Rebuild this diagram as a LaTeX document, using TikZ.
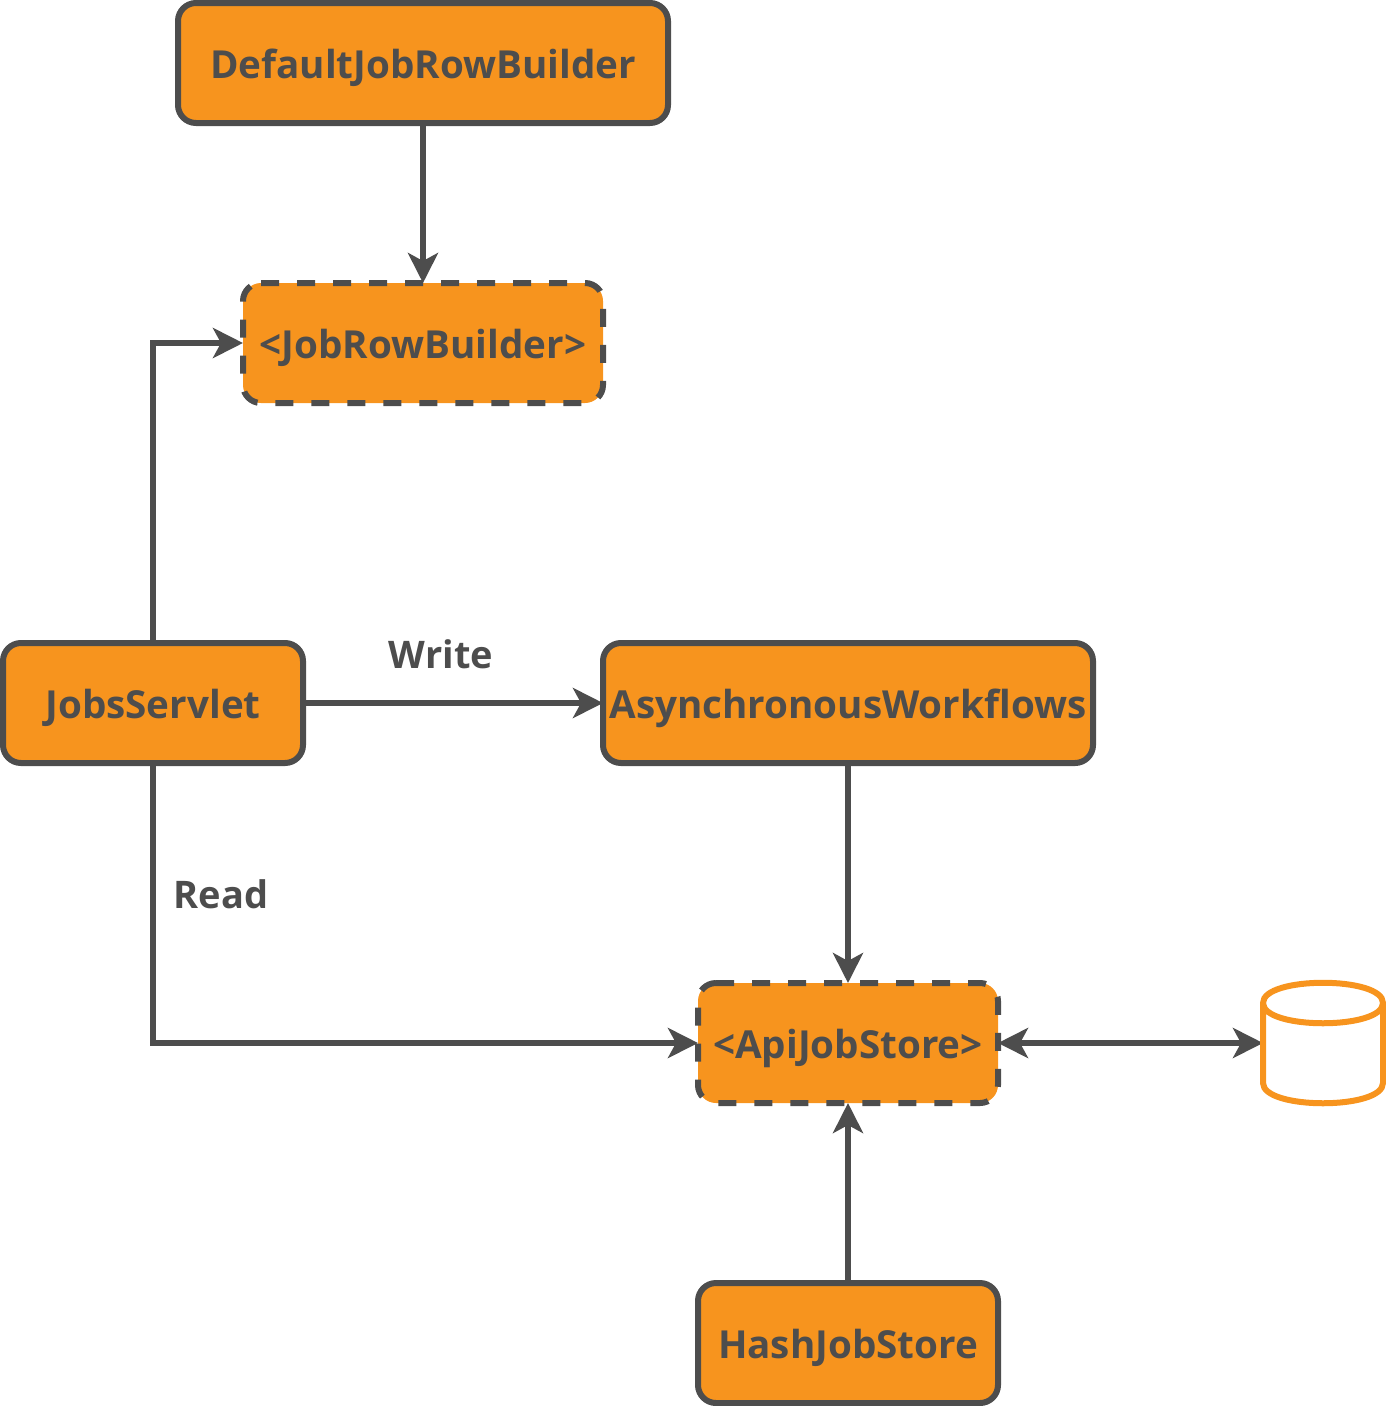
\documentclass[tikz,border=0pt]{standalone}
\usepackage{fontspec}
\setmainfont{Open Sans}
\usepackage{xcolor}
\usetikzlibrary{calc,arrows.meta}
\definecolor{color_fill_box}{HTML}{F7941E}
\definecolor{color_line_box}{HTML}{4D4D4D}
\tikzset{
	box/.style={draw=color_line_box,line width=6pt,fill=color_fill_box,rounded corners=18pt,outer sep=0pt,inner sep=0pt,minimum height=120pt,text height=30pt,text depth=0pt,text=color_line_box,font=\fontsize{38.6}{47}\selectfont\bfseries},
	ifacebox/.style={fill=color_fill_box,rounded corners=18pt,outer sep=0pt,inner sep=0pt,minimum height=120pt,text height=30pt,text depth=0pt,text=color_line_box,font=\fontsize{38.6}{47}\selectfont\bfseries},
	dashborder/.style={draw=color_line_box,line width=6pt,dash pattern=on 18pt off 18pt,rounded corners=18pt},
	link/.style={draw=color_line_box,line width=6pt,-{Stealth[length=30pt,width=30pt,inset=8pt]}},
	linkboth/.style={link,{Stealth[length=30pt,width=30pt,inset=8pt]}-{Stealth[length=30pt,width=30pt,inset=8pt]}},
	linklabel/.style={text=color_line_box,inner sep=0pt,font=\fontsize{38}{46}\selectfont\bfseries}
}
\begin{document}
\begin{tikzpicture}[x=1pt,y=-1pt]
	\useasboundingbox (0, 0) rectangle (1386, 1406);
	% Boxes
	\node[box,minimum width=490pt] (defaultbuilder) at (423, 63) {DefaultJobRowBuilder};
	\node[ifacebox,minimum width=360pt] (jobrowbuilder) at (423, 343) {<JobRowBuilder>};
	\node[box,minimum width=300pt] (jobsservlet) at (153, 703) {JobsServlet};
	\node[box,minimum width=490pt] (asyncworkflows) at (848, 703) {AsynchronousWorkflows};
	\node[ifacebox,minimum width=300pt] (apijobstore) at (848, 1043) {<ApiJobStore>};
	\node[box,minimum width=300pt] (hashjobstore) at (848, 1343) {HashJobStore};
	\node[minimum width=120pt,minimum height=120pt,outer sep=0pt,inner sep=0pt] (database) at (1323, 1043) {};

	% Links
	\draw[link] (defaultbuilder) -- (jobrowbuilder);
	\draw[link] (jobsservlet.north) |- (jobrowbuilder.west);
	\draw[link] (jobsservlet) -- (asyncworkflows);
	\draw[link] (asyncworkflows) -- (apijobstore);
	\draw[link] (jobsservlet.south) |- (apijobstore.west);
	\draw[link] (hashjobstore) -- (apijobstore);
	\draw[linkboth] (apijobstore) -- (database);

	% Dashed borders
	\draw[dashborder] ($(jobrowbuilder.north west)+(18,0)$) -- (jobrowbuilder.north east) -- (jobrowbuilder.south east) -- (jobrowbuilder.south west) -- (jobrowbuilder.north west) -- ($(jobrowbuilder.north west)+(18,0)$);
	\draw[dashborder] ($(apijobstore.north west)+(18,0)$) -- (apijobstore.north east) -- (apijobstore.south east) -- (apijobstore.south west) -- (apijobstore.north west) -- ($(apijobstore.north west)+(18,0)$);

	% Database
	\draw[color_fill_box,line width=6pt] (1263, 1003)
		.. controls (1263, 976) and (1383, 976) .. (1383, 1003)
		-- (1383, 1083)
		.. controls (1383, 1110) and (1263, 1110) .. (1263, 1083)
		-- cycle
		(1263, 1003) .. controls (1263, 1030) and (1383, 1030) .. (1383, 1003);

	% Labels
	\node[linklabel] (writelabel) at (441, 654) {Write};
	\node[linklabel] (readlabel) at (221, 894) {Read};
\end{tikzpicture}
\end{document}
